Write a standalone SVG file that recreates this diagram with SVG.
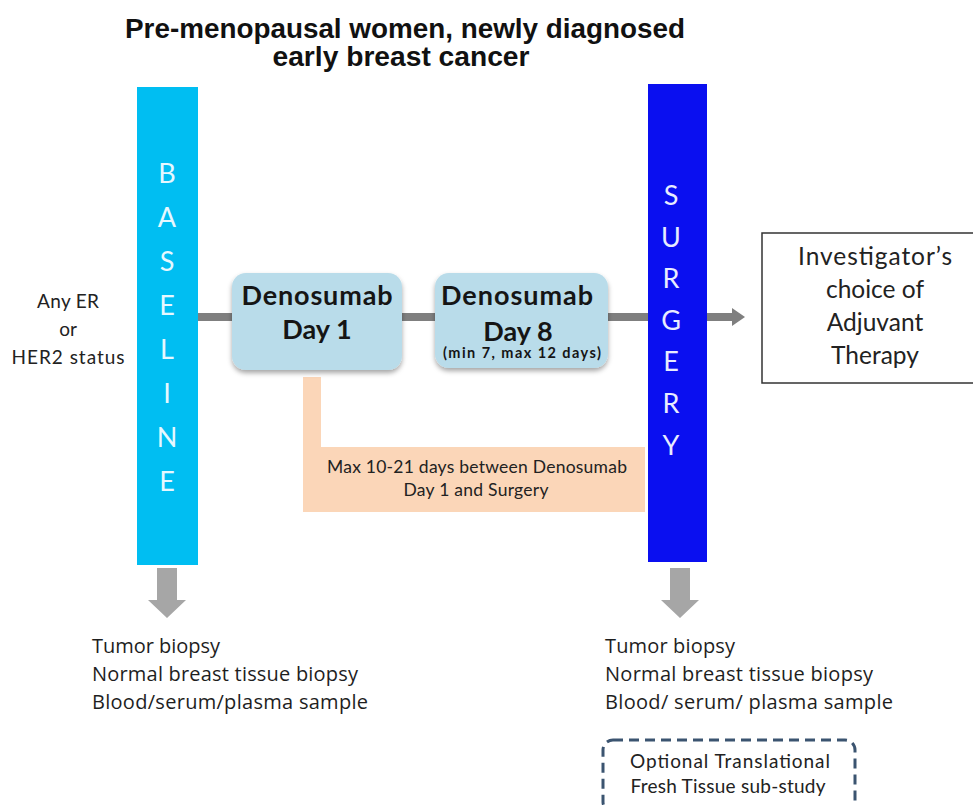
<svg xmlns="http://www.w3.org/2000/svg" width="973" height="805" viewBox="0 0 973 805">
<defs>
<filter id="sh" x="-10%" y="-10%" width="130%" height="140%">
<feDropShadow dx="0" dy="3" stdDeviation="2.5" flood-color="#000" flood-opacity="0.35"/>
</filter>
<style>
.bar{font-family:Lato,"Liberation Sans",sans-serif;font-size:27px;text-anchor:middle}
.den{font-family:Lato,"Liberation Sans",sans-serif;font-weight:bold;fill:#151515;text-anchor:middle}
.body{font-family:Lato,"Liberation Sans",sans-serif;fill:#222;text-anchor:middle}
.list{font-family:"Open Sans","Liberation Sans",sans-serif;font-size:20px;fill:#1e1e1e}
.conn{stroke:#7f7f7f;stroke-width:8;fill:none}
.down{fill:#a6a6a6}
</style>
</defs>
<rect width="973" height="805" fill="#fff"/>

<g id="title">
<text x="405" y="38" font-family="'Liberation Sans',Arial,sans-serif" font-weight="bold" font-size="27" fill="#111" text-anchor="middle" textLength="560" lengthAdjust="spacingAndGlyphs">Pre-menopausal women, newly diagnosed</text>
<text x="401" y="66" font-family="'Liberation Sans',Arial,sans-serif" font-weight="bold" font-size="27" fill="#111" text-anchor="middle" textLength="257" lengthAdjust="spacingAndGlyphs">early breast cancer</text>
</g>

<g id="connectors">
<line class="conn" x1="197" y1="317" x2="648" y2="317"/>
<line class="conn" x1="707" y1="317" x2="734" y2="317"/>
<polygon points="732,308 745,317 732,326" fill="#7f7f7f"/>
<polygon class="down" points="157,568 177,568 177,600 186,600 167,618 148,600 157,600"/>
<polygon class="down" points="670,568 690,568 690,600 699,600 680,618 661,600 670,600"/>
</g>

<g id="status">
<text class="body" font-size="19" x="68" y="308" textLength="62">Any ER</text>
<text class="body" font-size="19" x="68" y="336">or</text>
<text class="body" font-size="19" x="68" y="364" textLength="113">HER2 status</text>
</g>

<g id="baseline">
<rect x="137" y="87" width="61" height="478" fill="#00bef2"/>
<g class="bar" fill="#e6f8ff">
<text x="167" y="183">B</text>
<text x="167" y="227">A</text>
<text x="167" y="271">S</text>
<text x="167" y="315">E</text>
<text x="167" y="359">L</text>
<text x="167" y="403">I</text>
<text x="167" y="447">N</text>
<text x="167" y="491">E</text>
</g>
</g>

<g id="window">
<path d="M303,377 H321 V447 H645 V512 H303 Z" fill="#fbd6b8"/>
<text class="body" font-size="17.5" x="477" y="473" fill="#333" textLength="300">Max 10-21 days between  Denosumab</text>
<text class="body" font-size="17.5" x="476" y="496" fill="#333" textLength="145">Day 1 and Surgery</text>
</g>

<g id="day1">
<rect x="232" y="273" width="170" height="97" rx="14" fill="#b9dcea" filter="url(#sh)"/>
<text class="den" font-size="27" x="317" y="305" textLength="151">Denosumab</text>
<text class="den" font-size="27" x="317" y="339">Day 1</text>
</g>

<g id="day8">
<rect x="435" y="273" width="173" height="95" rx="14" fill="#b9dcea" filter="url(#sh)"/>
<text class="den" font-size="27" x="517" y="305" textLength="152">Denosumab</text>
<text class="den" font-size="27" x="518" y="341">Day 8</text>
<text class="den" font-size="14.5" x="522" y="358" textLength="158">(min 7, max 12 days)</text>
</g>

<g id="surgery">
<rect x="648" y="84" width="59" height="478" fill="#0a0ff0"/>
<g class="bar" fill="#e8ecff">
<text x="671" y="205">S</text>
<text x="671" y="247">U</text>
<text x="671" y="288">R</text>
<text x="671" y="330">G</text>
<text x="671" y="371">E</text>
<text x="671" y="413">R</text>
<text x="671" y="455">Y</text>
</g>
</g>

<g id="adjuvant">
<rect x="762" y="233" width="215" height="150" fill="#fff" stroke="#333" stroke-width="1.5"/>
<text class="body" font-size="24.5" x="875" y="265" textLength="154">Investigator’s</text>
<text class="body" font-size="24.5" x="875" y="298">choice of</text>
<text class="body" font-size="24.5" x="875" y="331">Adjuvant</text>
<text class="body" font-size="24.5" x="875" y="364">Therapy</text>
</g>

<g id="baseline-samples">
<text class="list" x="92" y="653" textLength="128" lengthAdjust="spacing">Tumor  biopsy</text>
<text class="list" x="92" y="681" textLength="266" lengthAdjust="spacing">Normal  breast tissue biopsy</text>
<text class="list" x="92" y="709" textLength="276" lengthAdjust="spacing">Blood/serum/plasma  sample</text>
</g>

<g id="surgery-samples">
<text class="list" x="605" y="653" textLength="130" lengthAdjust="spacing">Tumor  biopsy</text>
<text class="list" x="605" y="681" textLength="268" lengthAdjust="spacing">Normal  breast tissue biopsy</text>
<text class="list" x="605" y="709" textLength="288" lengthAdjust="spacing">Blood/ serum/  plasma sample</text>
</g>

<g id="substudy">
<rect x="603" y="740" width="252" height="72" rx="10" fill="none" stroke="#3b5470" stroke-width="3" stroke-dasharray="10 6"/>
<text class="body" font-size="19" x="730" y="768" fill="#222" textLength="200">Optional Translational</text>
<text class="body" font-size="19" x="728" y="793" fill="#222" textLength="195">Fresh Tissue sub-study</text>
</g>
</svg>
